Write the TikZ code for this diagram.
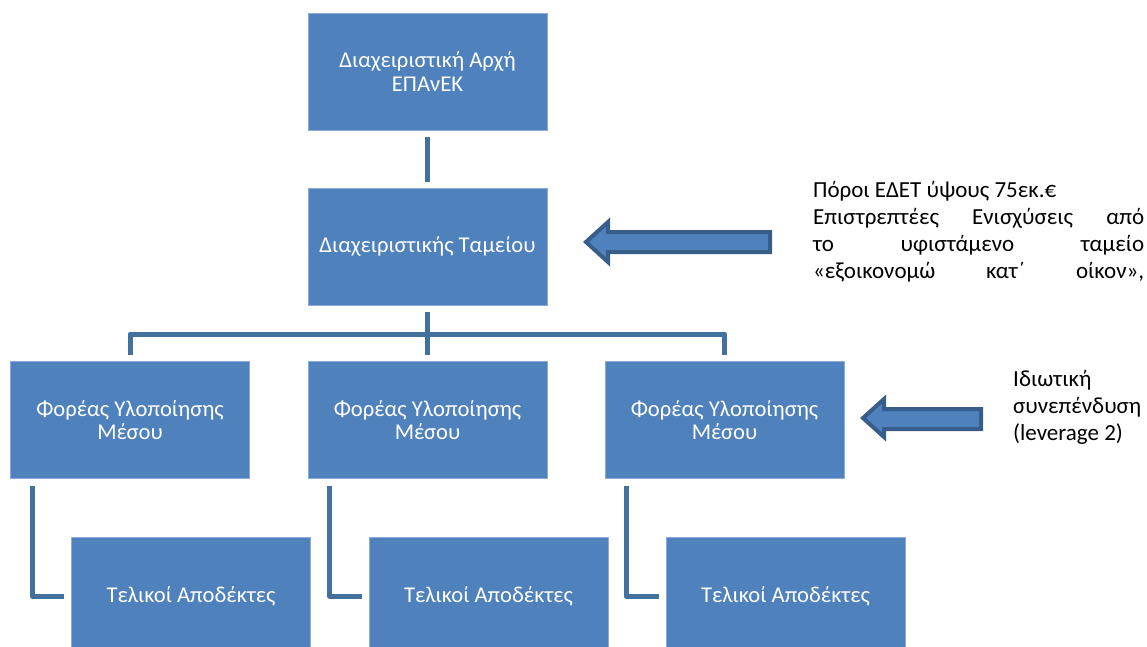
\documentclass[tikz,border=0pt]{standalone}
\usepackage{fontspec}
\setmainfont{Carlito}
\definecolor{boxfill}{HTML}{4F81BD}
\definecolor{boxline}{HTML}{8EAADB}
\definecolor{connc}{HTML}{41719C}
\definecolor{arrline}{HTML}{385D8A}
\begin{document}
\begin{tikzpicture}[x=1pt,y=-1pt,
  box/.style={draw=boxline,line width=0.8pt,fill=boxfill,minimum width=239pt,minimum height=117pt,
    text=white,align=center,inner sep=0pt,font=\fontsize{22.6}{23.5}\selectfont},
  conn/.style={draw=connc,line width=5pt,line join=round},
  blockarrow/.style={draw=arrline,fill=boxfill,line width=4pt,line join=miter},
  side/.style={anchor=base west,align=left,inner sep=0pt,font=\fontsize{23}{27}\selectfont}]
\useasboundingbox (0,0) rectangle (1147,646);
\clip (0,0) rectangle (1147,646);
\node[box] (a) at (427.5,71.5) {Διαχειριστική Αρχή\\ΕΠΑνΕΚ};
\node[box] (b) at (427.5,246.5) {Διαχειριστικής Ταμείου};
\node[box] (f1) at (130,420) {Φορέας Υλοποίησης\\Μέσου};
\node[box] (f2) at (427.5,420) {Φορέας Υλοποίησης\\Μέσου};
\node[box] (f3) at (724.5,420) {Φορέας Υλοποίησης\\Μέσου};
\node[box] (t1) at (191,596) {Τελικοί Αποδέκτες};
\node[box] (t2) at (488.5,596) {Τελικοί Αποδέκτες};
\node[box] (t3) at (785.5,596) {Τελικοί Αποδέκτες};
\coordinate (bar) at (427.5,334);
% connectors
\draw[conn] ([yshift=-7pt]a.south) -- ([yshift=6pt]b.north);
\draw[conn] ([yshift=-7pt]b.south) -- ([yshift=6pt]f2.north);
\draw[conn] ([yshift=6pt]f1.north) -- (f1.north |- bar) -- (f3.north |- bar) -- ([yshift=6pt]f3.north);
\draw[conn] ([xshift=22pt,yshift=-7pt]f1.south west) |- ([xshift=-7pt]t1.west);
\draw[conn] ([xshift=22pt,yshift=-7pt]f2.south west) |- ([xshift=-7pt]t2.west);
\draw[conn] ([xshift=22pt,yshift=-7pt]f3.south west) |- ([xshift=-7pt]t3.west);
% block arrows
\draw[blockarrow] (770,232) -- (608,232) -- (608,222) -- (586,242) -- (608,262) -- (608,252) -- (770,252) -- cycle;
\draw[blockarrow] (981,409) -- (884,409) -- (884,399) -- (863,418) -- (884,437) -- (884,429) -- (981,429) -- cycle;
% side texts
\node[side] (s1) at (813,278) {Πόροι ΕΔΕΤ ύψους 75εκ.€\\
\hbox to 331pt{Επιστρεπτέες\hfill Ενισχύσεις\hfill από}\\
\hbox to 331pt{το\hfill υφιστάμενο\hfill ταμείο}\\
\hbox to 331pt{«εξοικονομώ\hfill κατ΄\hfill οίκον»,}};
\node[side] (s2) at (1013,440) {Ιδιωτική\\συνεπένδυση\\(leverage 2)};
\end{tikzpicture}
\end{document}
